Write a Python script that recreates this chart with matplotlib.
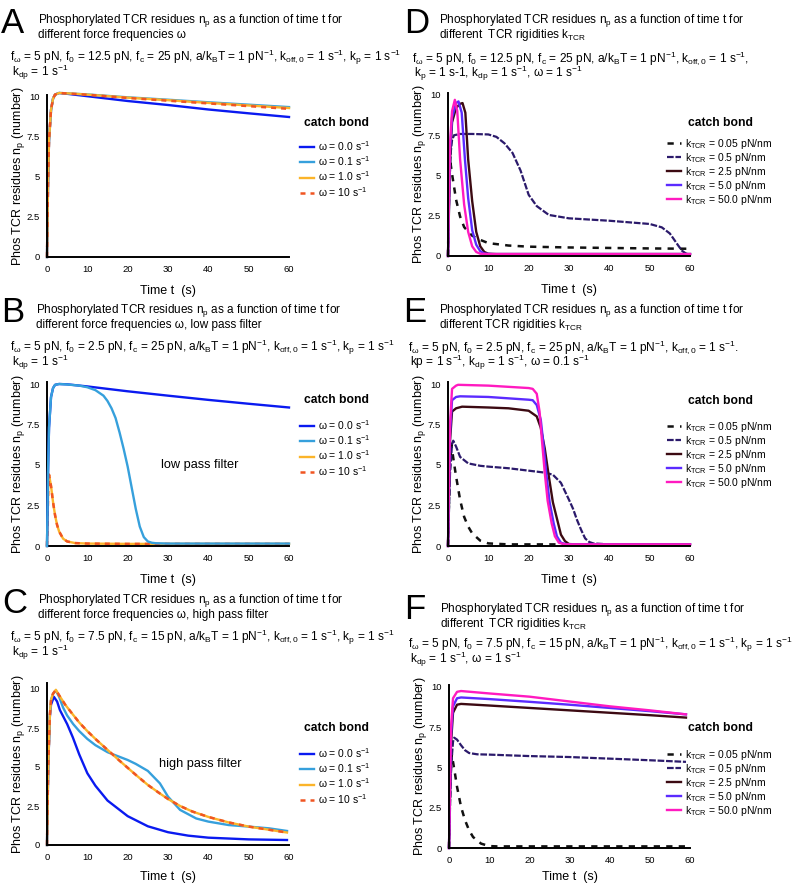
import matplotlib
matplotlib.use('Agg')
import matplotlib.pyplot as plt

plt.rcParams['font.family'] = ['Liberation Sans', 'DejaVu Sans']
plt.rcParams['mathtext.fontset'] = 'custom'
plt.rcParams['mathtext.rm'] = 'Liberation Sans'
plt.rcParams['mathtext.it'] = 'Liberation Sans:italic'
plt.rcParams['mathtext.bf'] = 'Liberation Sans:bold'

# ---- panel A: f0 = 12.5 pN, varying omega
tA = [0, 0.25, 0.5, 1, 1.5, 2, 3, 5, 10, 20, 30, 40, 50, 60]
A_w00 = [0, 4.5, 7.3, 9.2, 9.9, 10.15, 10.25, 10.2, 10.05, 9.75, 9.5, 9.22, 8.98, 8.75]
A_w01 = [0, 4.5, 7.3, 9.2, 9.9, 10.15, 10.25, 10.23, 10.16, 9.98, 9.83, 9.67, 9.52, 9.37]
A_w10 = [0, 4.5, 7.3, 9.2, 9.9, 10.15, 10.25, 10.23, 10.15, 9.96, 9.8, 9.63, 9.47, 9.31]
A_w100 = [0, 4.5, 7.3, 9.2, 9.9, 10.15, 10.25, 10.22, 10.14, 9.94, 9.77, 9.6, 9.43, 9.26]

# ---- panel B: low pass filter
tB00 = [0, 0.25, 0.5, 1, 1.5, 2, 3, 5, 10, 20, 30, 40, 50, 60]
B_w00 = [0, 4.5, 7.3, 9.2, 9.75, 9.95, 10.0, 9.98, 9.85, 9.55, 9.28, 9.02, 8.78, 8.55]
tB01 = [0, 0.25, 0.5, 1, 1.5, 2, 3, 5, 8, 10, 12, 14, 15, 16, 17, 18, 19, 20, 21, 22, 23, 24, 25, 26, 27, 30, 60]
B_w01 = [0, 4.5, 7.3, 9.2, 9.75, 9.95, 10.0, 9.97, 9.9, 9.8, 9.62, 9.28, 8.95, 8.5, 7.9, 7.0, 6.0, 4.9,
         3.6, 2.3, 1.2, 0.55, 0.28, 0.2, 0.17, 0.15, 0.15]
tB10 = [0, 0.3, 0.5, 1, 1.5, 2, 2.5, 3, 4, 5, 7, 10, 20, 60]
B_w10 = [0, 3.5, 4.4, 3.7, 2.7, 1.9, 1.3, 0.9, 0.45, 0.28, 0.18, 0.15, 0.13, 0.13]
B_w100 = [0, 3.5, 4.4, 3.7, 2.7, 1.9, 1.3, 0.9, 0.45, 0.28, 0.18, 0.15, 0.13, 0.13]

# ---- panel C: high pass filter
tC00 = [0, 0.3, 0.7, 1, 1.7, 2.5, 3.2, 5, 6.4, 8, 10, 12, 15, 20, 25, 30, 35, 40, 50, 59.5]
C_w00 = [0, 5, 8.2, 9.0, 9.5, 9.2, 8.65, 7.75, 6.9, 5.8, 4.6, 3.8, 2.85, 1.85, 1.2, 0.82, 0.6, 0.47,
         0.36, 0.32]
tC01 = [0, 0.3, 0.7, 1, 1.5, 2.2, 3, 4, 5, 6.5, 8, 10, 12, 15, 18, 20, 22, 25, 28, 30, 33, 37, 40, 45,
        50, 55, 59.5]
C_w01 = [0, 5, 8.3, 9.3, 9.7, 9.9, 9.5, 8.8, 8.3, 7.75, 7.3, 6.8, 6.4, 5.95, 5.65, 5.45, 5.2, 4.75,
         3.95, 3.1, 2.25, 1.7, 1.5, 1.28, 1.18, 1.07, 0.9]
tC10 = [0, 0.3, 0.7, 1, 1.5, 2.2, 3, 4.5, 6, 8, 10, 12, 15, 18, 20, 22, 25, 28, 30, 33, 36, 40, 45,
        50, 55, 59.5]
C_w10 = [0, 5, 8.3, 9.3, 9.7, 9.95, 9.6, 9.0, 8.5, 7.85, 7.3, 6.8, 6.1, 5.4, 4.95, 4.5, 3.85, 3.3,
         2.95, 2.5, 2.15, 1.8, 1.45, 1.18, 0.98, 0.8]
C_w100 = [0, 5, 8.3, 9.3, 9.7, 9.95, 9.6, 9.0, 8.5, 7.85, 7.3, 6.8, 6.1, 5.4, 4.95, 4.5, 3.85, 3.3,
          2.95, 2.5, 2.15, 1.8, 1.45, 1.18, 0.98, 0.8]

# ---- panel D: omega = 1, f0 = 12.5 pN, varying kTCR
tD005 = [0, 0.25, 0.5, 1, 2, 3, 4, 5, 6, 8, 10, 15, 20, 30, 40, 50, 60]
D_k005 = [0, 4.0, 6.0, 5.1, 3.5, 2.45, 1.8, 1.5, 1.26, 1.0, 0.8, 0.65, 0.58, 0.53, 0.5, 0.47, 0.45]
tD05 = [0, 0.3, 0.7, 1, 1.5, 3, 6, 10, 12, 14, 16, 18, 20, 22, 25, 30, 40, 50, 53, 55, 57, 58, 59, 60]
D_k05 = [0, 4, 6.5, 7.2, 7.5, 7.58, 7.58, 7.55, 7.4, 7.0, 6.4, 5.3, 3.8, 3.1, 2.55, 2.34, 2.19, 1.99,
         1.78, 1.4, 0.68, 0.33, 0.15, 0.1]
tD25 = [0, 0.5, 1, 2, 3, 3.6, 4.3, 5, 6, 7, 8, 9, 10, 12, 60]
D_k25 = [0, 6, 8.3, 9.2, 9.45, 9.5, 8.9, 6.0, 3.4, 1.5, 0.6, 0.25, 0.14, 0.12, 0.12]
tD50 = [0, 0.5, 1, 2, 2.6, 3.4, 4.2, 5, 6, 7, 8, 9, 11, 60]
D_k50 = [0, 6.5, 8.6, 9.5, 9.6, 8.9, 6.0, 3.6, 1.6, 0.7, 0.3, 0.15, 0.12, 0.12]
tD500 = [0, 0.5, 1, 1.7, 2.3, 3, 4, 5, 6, 7, 8, 10, 60]
D_k500 = [0, 7, 9.0, 9.7, 9.0, 6.0, 3.2, 1.5, 0.6, 0.25, 0.14, 0.12, 0.12]

# ---- panel E: omega = 0.1, f0 = 2.5 pN
tE005 = [0, 0.4, 0.8, 1.5, 2, 3, 4, 5, 6, 8, 10, 15, 60]
E_k005 = [0, 4.5, 6.3, 5.1, 4.3, 2.85, 1.8, 1.2, 0.78, 0.33, 0.16, 0.1, 0.1]
tE05 = [0, 0.5, 1, 1.3, 2, 3, 5, 8, 10, 15, 20, 24, 26, 28, 30, 31, 32, 33, 34, 35, 36, 40, 60]
E_k05 = [0, 4.5, 6.3, 6.5, 6.14, 5.5, 5.1, 4.95, 4.9, 4.8, 4.65, 4.53, 4.4, 3.9, 2.85, 2.3, 1.6, 1.0,
         0.47, 0.25, 0.16, 0.1, 0.1]
tE25 = [0, 0.5, 1, 2, 3.5, 10, 15, 20, 22, 23, 24, 25, 26, 27.3, 28, 29, 30, 32, 60]
E_k25 = [0, 6.5, 8.3, 8.5, 8.6, 8.55, 8.5, 8.35, 8.0, 7.3, 6.0, 4.3, 2.7, 1.4, 0.7, 0.3, 0.12, 0.1, 0.1]
tE50 = [0, 0.5, 1, 2, 3, 10, 20, 21, 22, 23, 23.7, 24.4, 25.2, 26.2, 27, 28, 29.5, 60]
E_k50 = [0, 7, 9.0, 9.2, 9.24, 9.2, 9.03, 9.0, 8.7, 7.8, 6.2, 4.4, 2.7, 1.4, 0.6, 0.2, 0.1, 0.1]
tE500 = [0, 0.5, 1, 2, 2.5, 10, 20, 21, 22, 22.7, 23.3, 24, 24.7, 25.7, 26.5, 27.5, 29, 60]
E_k500 = [0, 7.5, 9.7, 9.9, 9.95, 9.9, 9.75, 9.7, 9.4, 8.3, 6.5, 4.5, 2.8, 1.4, 0.6, 0.2, 0.1, 0.1]

# ---- panel F: omega = 1, f0 = 7.5 pN
tF005 = [0, 0.3, 0.7, 1.5, 2, 3, 4, 5, 6, 8, 10, 12, 59]
F_k005 = [0, 4, 5.8, 4.6, 3.8, 2.55, 1.72, 1.1, 0.68, 0.27, 0.12, 0.1, 0.1]
tF05 = [0, 0.5, 1, 1.3, 2, 3, 4, 5, 7, 10, 20, 30, 40, 50, 59]
F_k05 = [0, 5, 6.6, 6.85, 6.73, 6.38, 6.07, 5.9, 5.82, 5.8, 5.71, 5.65, 5.55, 5.45, 5.35]
tF = [0, 0.5, 1, 2, 3, 10, 20, 30, 40, 50, 59]
F_k25 = [0, 6.5, 8.4, 8.9, 8.95, 8.85, 8.7, 8.55, 8.4, 8.25, 8.1]
F_k50 = [0, 7, 8.8, 9.3, 9.35, 9.25, 9.08, 8.9, 8.7, 8.5, 8.3]
F_k500 = [0, 7.5, 9.3, 9.7, 9.75, 9.6, 9.4, 9.1, 8.8, 8.55, 8.3]

omega_labels = ['ω = 0.0 s$^{\\mathregular{-1}}$', 'ω = 0.1 s$^{\\mathregular{-1}}$',
                'ω = 1.0 s$^{\\mathregular{-1}}$', 'ω = 10 s$^{\\mathregular{-1}}$']
k_labels = ['k$_{\\mathregular{TCR}}$ = 0.05 pN/nm', 'k$_{\\mathregular{TCR}}$ = 0.5 pN/nm',
            'k$_{\\mathregular{TCR}}$ = 2.5 pN/nm', 'k$_{\\mathregular{TCR}}$ = 5.0 pN/nm',
            'k$_{\\mathregular{TCR}}$ = 50.0 pN/nm']

omega_styles = [dict(color='#0a1af0', lw=1.7), dict(color='#36a0dc', lw=1.7),
                dict(color='#fbb42a', lw=1.7), dict(color='#f05522', lw=1.8, dashes=(2, 2))]
k_styles = [dict(color='#111111', lw=1.8, dashes=(2.5, 2.5)), dict(color='#2b1a6b', lw=1.6, dashes=(3, 0.8)),
            dict(color='#3c0a12', lw=1.7), dict(color='#5b2bff', lw=1.7), dict(color='#ff1ac0', lw=1.7)]

W, H = 802, 886
fig = plt.figure(figsize=(W / 100, H / 100), dpi=100)


def px(x, y):
    return x / W, 1 - y / H


def make_axes(x0, x60, y0, y10, ymax, xpad=7.5):
    ytop = y0 - (y0 - y10) * ymax / 10
    ax = fig.add_axes([x0 / W, 1 - y0 / H, (x60 - x0) / W, (y0 - ytop) / H])
    ax.set_xlim(0, 60)
    ax.set_ylim(0, ymax)
    ax.set_xticks([0, 10, 20, 30, 40, 50, 60])
    ax.set_yticks([0, 2.5, 5, 7.5, 10])
    ax.set_yticklabels(['0', '2.5', '5', '7.5', '10'])
    ax.tick_params(length=0, labelsize=6.8)
    ax.tick_params(axis='x', pad=6)
    ax.tick_params(axis='y', pad=5)
    for s in ['top', 'right']:
        ax.spines[s].set_visible(False)
    for s in ['left', 'bottom']:
        ax.spines[s].set_linewidth(1.4)
    ax.set_xlabel('Time t  (s)', fontsize=9, labelpad=xpad)
    ax.set_ylabel('Phos TCR residues n$_{\\mathregular{p}}$ (number)', fontsize=9, labelpad=0)
    return ax


def legend(ax, lines, labels, x, ytitle, ytop):
    omega = len(lines) == 4
    fig.text(*px(x + 36 if omega else x + 53, ytitle), 'catch bond', fontsize=8.7,
             fontweight='bold', ha='center', va='center')
    ax.legend(lines, labels, loc='upper left', bbox_to_anchor=px(x, ytop),
              bbox_transform=fig.transFigure, frameon=False, fontsize=7.5, handlelength=1.3,
              handletextpad=0.4, labelspacing=0.14 if omega else 0.0, borderpad=0, borderaxespad=0)


def header(letter, lx, ly, tx, ty, title2, parx, pary, par1, par2):
    fig.text(*px(lx, ly), letter, fontsize=25, va='baseline')
    fig.text(*px(tx, ty), 'Phosphorylated TCR residues n$_{\\mathregular{p}}$ as a function of time t for',
             fontsize=8.5, va='baseline')
    fig.text(*px(tx, ty + 15), title2, fontsize=8.5, va='baseline')
    fig.text(*px(parx, pary), par1, fontsize=8.6, va='baseline')
    fig.text(*px(parx + 2, pary + 14.5), par2, fontsize=8.6, va='baseline')


inv = 's$^{\\mathregular{-1}}$'
fw = 'f$_{\\mathregular{ω}}$ = 5 pN, '
ab = 'a/k$_{\\mathregular{B}}$T = 1 pN$^{\\mathregular{-1}}$, '
koff = 'k$_{\\mathregular{off,0}}$ = 1 ' + inv
kp = 'k$_{\\mathregular{p}}$ = 1 ' + inv
kdp = 'k$_{\\mathregular{dp}}$ = 1 ' + inv
f0 = 'f$_{\\mathregular{0}}$ = '
fc = 'f$_{\\mathregular{c}}$ = '
ktcr = 'k$_{\\mathregular{TCR}}$'

# ---------------- A
header('A', 1, 33, 38, 23, 'different force frequencies ω', 10, 61,
       fw + f0 + '12.5 pN, ' + fc + '25 pN, ' + ab + koff + ', ' + kp, kdp)
ax = make_axes(47, 289, 257, 97, 10.15, xpad=8)
lines = []
for t, v, st in [(tA, A_w00, omega_styles[0]), (tA, A_w01, omega_styles[1]),
                 (tA, A_w10, omega_styles[2]), (tA, A_w100, omega_styles[3])]:
    lines.append(ax.plot(t, v, clip_on=False, **st)[0])
legend(ax, lines, omega_labels, 300, 123, 139)

# ---------------- B
header('B', 1, 322, 36, 313, 'different force frequencies ω, low pass filter', 10, 351,
       fw + f0 + '2.5 pN, ' + fc + '25 pN, ' + ab + koff + ', ' + kp, kdp)
ax = make_axes(47, 289, 546, 384, 10.1)
l0 = ax.plot(tB00, B_w00, clip_on=False, zorder=3, **omega_styles[0])[0]
l1 = ax.plot(tB01, B_w01, clip_on=False, zorder=4, **omega_styles[1])[0]
l2 = ax.plot(tB10, B_w10, clip_on=False, zorder=2, **omega_styles[2])[0]
l3 = ax.plot(tB10, B_w100, clip_on=False, zorder=2.5, **omega_styles[3])[0]
legend(ax, [l0, l1, l2, l3], omega_labels, 300, 400, 418)
ax.text(37.9, 5.0, 'low pass filter', fontsize=9.2, ha='center', va='center')

# ---------------- C
header('C', 2, 613, 38, 603, 'different force frequencies ω, high pass filter', 10, 641,
       fw + f0 + '7.5 pN, ' + fc + '15 pN, ' + ab + koff + ', ' + kp, kdp)
ax = make_axes(47, 289, 845, 689, 10.4, xpad=6.5)
lines = []
for t, v, st in [(tC00, C_w00, omega_styles[0]), (tC01, C_w01, omega_styles[1]),
                 (tC10, C_w10, omega_styles[2]), (tC10, C_w100, omega_styles[3])]:
    lines.append(ax.plot(t, v, clip_on=False, **st)[0])
legend(ax, lines, omega_labels, 300, 728, 746)
ax.text(38, 5.2, 'high pass filter', fontsize=9.2, ha='center', va='center')

# ---------------- D
header('D', 404, 33, 439, 23, 'different  TCR rigidities ' + ktcr, 412, 62,
       fw + f0 + '12.5 pN, ' + fc + '25 pN, ' + ab + koff + ',',
       'k$_{\\mathregular{p}}$ = 1 s-1, ' + kdp + ', ω = 1 ' + inv)
ax = make_axes(448, 690, 256, 95, 10.1)
lines = []
for t, v, st in [(tD005, D_k005, k_styles[0]), (tD05, D_k05, k_styles[1]), (tD25, D_k25, k_styles[2]),
                 (tD50, D_k50, k_styles[3]), (tD500, D_k500, k_styles[4])]:
    lines.append(ax.plot(t, v, clip_on=False, **st)[0])
legend(ax, lines, k_labels, 667, 123, 137)

# ---------------- E
header('E', 403, 322, 439, 313, 'different TCR rigidities ' + ktcr, 408, 351,
       fw + f0 + '2.5 pN, ' + fc + '25 pN, ' + ab + koff + '.',
       'kp = 1 ' + inv + ', ' + kdp + ', ω = 0.1 ' + inv)
ax = make_axes(448, 690, 546, 384, 10.1)
lines = []
for t, v, st in [(tE005, E_k005, k_styles[0]), (tE05, E_k05, k_styles[1]), (tE25, E_k25, k_styles[2]),
                 (tE50, E_k50, k_styles[3]), (tE500, E_k500, k_styles[4])]:
    lines.append(ax.plot(t, v, clip_on=False, **st)[0])
legend(ax, lines, k_labels, 667, 401, 420)

# ---------------- F
header('F', 404, 619, 440, 612, 'different  TCR rigidities ' + ktcr, 408, 648,
       fw + f0 + '7.5 pN, ' + fc + '15 pN, ' + ab + koff + ', ' + kp,
       kdp + ', ω = 1 ' + inv)
ax = make_axes(449, 690, 848, 687, 10.1, xpad=4)
lines = []
for t, v, st in [(tF005, F_k005, k_styles[0]), (tF05, F_k05, k_styles[1]), (tF, F_k25, k_styles[2]),
                 (tF, F_k50, k_styles[3]), (tF, F_k500, k_styles[4])]:
    lines.append(ax.plot(t, v, clip_on=False, **st)[0])
legend(ax, lines, k_labels, 667, 728, 748)

fig.savefig('out.png', dpi=100)
